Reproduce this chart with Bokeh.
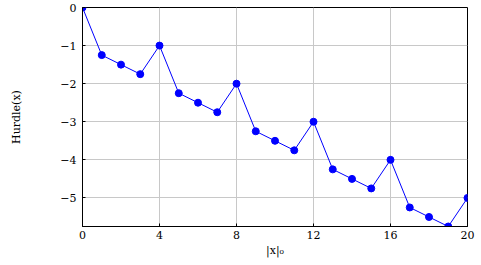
from bokeh.plotting import figure
from bokeh.models import Range1d, FixedTicker, CustomJSTickFormatter
from bokeh.embed import file_html
from bokeh.resources import INLINE

x_vals = list(range(21))
hurdle = [0, -1.25, -1.5, -1.75, -1, -2.25, -2.5, -2.75, -2, -3.25, -3.5, -3.75,
          -3, -4.25, -4.5, -4.75, -4, -5.25, -5.5, -5.75, -5]
x_ticks = [0, 4, 8, 12, 16, 20]
y_ticks = [0, -1, -2, -3, -4, -5]

FONT = "DejaVu Serif"

p = figure(width=481, height=265, output_backend="svg", toolbar_location=None,
           x_range=Range1d(0, 20), y_range=Range1d(-5.75, 0),
           min_border_left=82, min_border_right=14, min_border_top=7, min_border_bottom=39)

p.line(x_vals, hurdle, line_color="#0000ff", line_width=1)
p.scatter(x_vals, hurdle, size=7, fill_color="#0000ff", line_color="#0000ff")

p.xaxis.ticker = FixedTicker(ticks=x_ticks)
p.yaxis.ticker = FixedTicker(ticks=y_ticks)
p.yaxis.formatter = CustomJSTickFormatter(code="return tick < 0 ? '\u2212' + Math.abs(tick) : String(tick);")

p.xaxis.axis_label = "|x|\u2080"
p.yaxis.axis_label = "Hurdle(x)"

for ax in (p.xaxis, p.yaxis):
    ax.major_label_text_font = FONT
    ax.major_label_text_font_size = "11px"
    ax.major_label_text_color = "#000000"
    ax.axis_label_text_font = FONT
    ax.axis_label_text_font_size = "11px"
    ax.axis_label_text_font_style = "normal"
    ax.axis_label_text_color = "#000000"
    ax.axis_line_color = "#000000"
    ax.major_tick_line_color = "#000000"
    ax.major_tick_in = 3
    ax.major_tick_out = 0
    ax.minor_tick_line_color = None

p.xaxis.major_label_standoff = 4
p.xaxis.axis_label_standoff = 2
p.yaxis.major_label_standoff = 6
p.yaxis.axis_label_standoff = 34

p.grid.grid_line_color = "#c8c8c8"
p.grid.grid_line_width = 1
p.outline_line_color = "#000000"
p.outline_line_width = 1
p.background_fill_color = "white"
p.border_fill_color = "white"

open("out.html", "w").write(file_html(p, INLINE))
